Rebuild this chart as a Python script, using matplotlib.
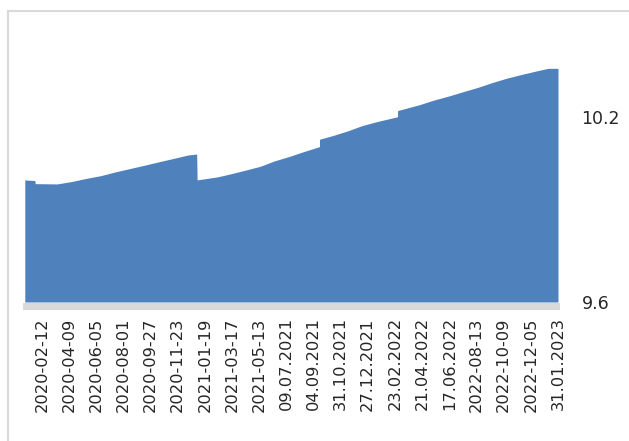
import numpy as np
import pandas as pd
import matplotlib
matplotlib.use('Agg')
from matplotlib import pyplot as plt
import matplotlib.dates as mdates
from matplotlib.lines import Line2D
from matplotlib.patches import Rectangle

# Readings of the series (date, value); repeated dates mark the vertical jumps
dates = ['2020-01-07', '2020-01-28', '2020-01-29', '2020-03-15', '2020-04-15', '2020-05-15',
         '2020-06-15', '2020-07-15', '2020-08-15', '2020-09-15', '2020-10-15', '2020-11-15',
         '2020-12-15', '2021-01-02', '2021-01-03', '2021-02-15', '2021-03-15', '2021-04-15',
         '2021-05-15', '2021-06-15', '2021-07-15', '2021-08-15', '2021-09-17', '2021-09-17',
         '2021-10-15', '2021-11-15', '2021-12-15', '2022-01-15', '2022-02-28', '2022-02-28',
         '2022-04-15', '2022-05-15', '2022-06-15', '2022-07-15', '2022-08-15', '2022-09-15',
         '2022-10-15', '2022-11-15', '2022-12-15', '2023-01-10', '2023-01-31']
values = [9.996, 9.994, 9.984, 9.983, 9.991, 10.001,
          10.010, 10.022, 10.033, 10.044, 10.055, 10.066,
          10.077, 10.080, 9.996, 10.006, 10.016, 10.028,
          10.040, 10.058, 10.072, 10.088, 10.104, 10.128,
          10.140, 10.155, 10.172, 10.185, 10.201, 10.221,
          10.240, 10.255, 10.268, 10.282, 10.296, 10.312,
          10.326, 10.338, 10.349, 10.358, 10.358]

tick_labels = ['2020-02-12', '2020-04-09', '2020-06-05', '2020-08-01', '2020-09-27',
               '2020-11-23', '2021-01-19', '2021-03-17', '2021-05-13', '09.07.2021',
               '04.09.2021', '31.10.2021', '27.12.2021', '23.02.2022', '21.04.2022',
               '17.06.2022', '2022-08-13', '2022-10-09', '2022-12-05', '31.01.2023']
y_ticks = [9.6, 10.2]


def parse_label(s):
    if '.' in s:
        return pd.to_datetime(s, format='%d.%m.%Y')
    return pd.to_datetime(s, format='%Y-%m-%d')


x = mdates.date2num(pd.to_datetime(dates))
y = np.array(values)
tick_x = mdates.date2num([parse_label(s) for s in tick_labels])

W, H = 629, 441
fig = plt.figure(figsize=(W / 100, H / 100), dpi=100)
fig.patch.set_facecolor('white')

ax_left, ax_right, ax_top, ax_bottom = 24.8, 558.0, 55.4, 302.0
ax = fig.add_axes([ax_left / W, 1 - ax_bottom / H, (ax_right - ax_left) / W, (ax_bottom - ax_top) / H])

ax.fill_between(x, y, 9.6, color='#4F81BD', linewidth=0)
ax.set_xlim(x[0], x[-1])
ax.set_ylim(9.6, 10.4)

for s in ax.spines.values():
    s.set_visible(False)

ax.yaxis.tick_right()
ax.set_yticks(y_ticks)
ax.set_yticklabels([f'{v:.1f}' for v in y_ticks])
ax.tick_params(axis='y', length=0, pad=17, labelsize=12.5, labelcolor='#262626')

ax.set_xticks(tick_x)
ax.set_xticklabels(tick_labels, rotation=90, fontsize=11.7, color='#262626')
ax.tick_params(axis='x', length=0, pad=11)

# gray floor band under the area
fig.add_artist(Rectangle((23 / W, 1 - 310 / H), (560 - 23) / W, 7 / H,
                         transform=fig.transFigure, facecolor='#d9d9d9', edgecolor='none'))

# chart border (top and left edges visible)
fig.add_artist(Line2D([8 / W, 1.0], [1 - 11 / H, 1 - 11 / H], transform=fig.transFigure,
                      color='#d9d9d9', linewidth=1.5))
fig.add_artist(Line2D([8 / W, 8 / W], [1 - 11 / H, 0.0], transform=fig.transFigure,
                      color='#d9d9d9', linewidth=1.5))

fig.savefig('out.png', dpi=100, facecolor='white')
plt.close(fig)
